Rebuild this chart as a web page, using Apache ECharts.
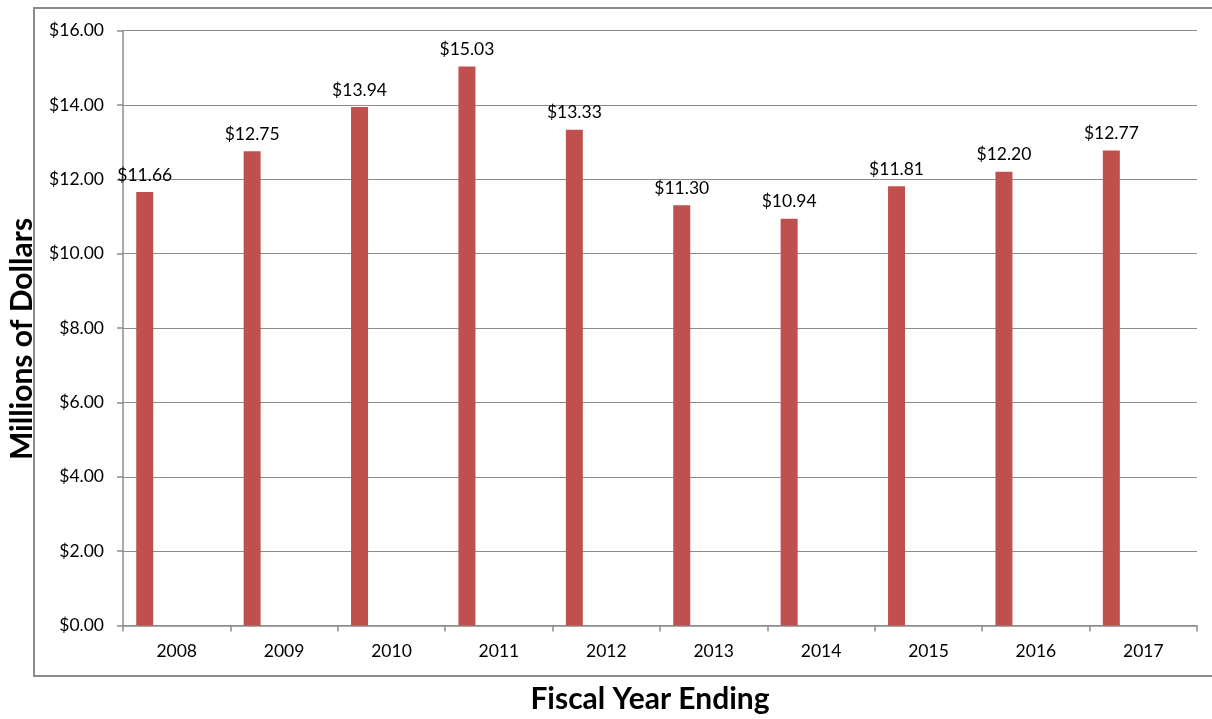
<!DOCTYPE html>
<html>
<head>
<meta charset="utf-8">
<script src="https://cdn.jsdelivr.net/npm/echarts@6/dist/echarts.min.js"></script>
<style>
  html, body { margin: 0; padding: 0; background: #ffffff; }
  #chart { width: 1212px; height: 719px; }
</style>
</head>
<body>
<div id="chart"></div>
<script>
// Fiscal years and annual totals (millions of dollars)
const years = ['2008', '2009', '2010', '2011', '2012', '2013', '2014', '2015', '2016', '2017'];
const totals = [11.66, 12.75, 13.94, 15.03, 13.33, 11.30, 10.94, 11.81, 12.20, 12.77];
const yTicks = { min: 0, max: 16, interval: 2 };

const FONT = 'Lato, "Open Sans", "Noto Sans", sans-serif';
const chart = echarts.init(document.getElementById('chart'), null, { renderer: 'canvas' });

chart.setOption({
  backgroundColor: '#ffffff',
  animation: false,
  graphic: [
    {
      type: 'rect',
      shape: { x: 34, y: 8, width: 1200, height: 668 },
      style: { fill: 'none', stroke: '#8c8c8c', lineWidth: 2 },
      silent: true
    }
  ],
  grid: {
    left: 123, right: 15, top: 30.5, bottom: 93.5,
    containLabel: false,
    outerBoundsMode: 'none'
  },
  xAxis: {
    type: 'category',
    data: years,
    boundaryGap: true,
    name: 'Fiscal Year Ending',
    nameLocation: 'middle',
    nameGap: 59,
    nameTextStyle: {
      fontFamily: FONT, fontWeight: 'bold', fontSize: 30, color: '#000',
      padding: [0, 20, 0, 0]
    },
    axisLine: { lineStyle: { color: '#8c8c8c', width: 1.5 } },
    axisTick: { show: true, alignWithLabel: false, length: 6, lineStyle: { color: '#8c8c8c', width: 1.5 } },
    axisLabel: { fontFamily: FONT, fontSize: 17.5, color: '#000', margin: 17 },
    splitLine: { show: false }
  },
  yAxis: {
    type: 'value',
    min: yTicks.min,
    max: yTicks.max,
    interval: yTicks.interval,
    name: 'Millions of Dollars',
    nameLocation: 'middle',
    nameGap: 86,
    nameRotate: 90,
    nameTextStyle: {
      fontFamily: FONT, fontWeight: 'bold', fontSize: 30, color: '#000',
      padding: [0, 22, 0, 0]
    },
    axisLine: { show: true, lineStyle: { color: '#8c8c8c', width: 1.5 } },
    axisTick: { show: true, length: 6, lineStyle: { color: '#8c8c8c', width: 1.5 } },
    axisLabel: {
      fontFamily: FONT, fontSize: 17.5, color: '#000', margin: 19,
      formatter: v => '$' + v.toFixed(2)
    },
    splitLine: { show: true, lineStyle: { color: '#8c8c8c', width: 1.2 } }
  },
  series: [
    {
      name: 'Total',
      type: 'bar',
      data: totals,
      barWidth: 17,
      barGap: '276%',
      itemStyle: { color: '#c0504d' },
      label: {
        show: true,
        position: 'top',
        distance: 8,
        fontFamily: FONT,
        fontSize: 17.5,
        color: '#000',
        formatter: p => '$' + p.value.toFixed(2)
      }
    },
    {
      // empty companion series keeps each bar on the left of its year slot
      name: 'spacer',
      type: 'bar',
      data: years.map(() => null),
      barWidth: 17,
      itemStyle: { color: 'transparent' }
    }
  ]
});
</script>
</body>
</html>
